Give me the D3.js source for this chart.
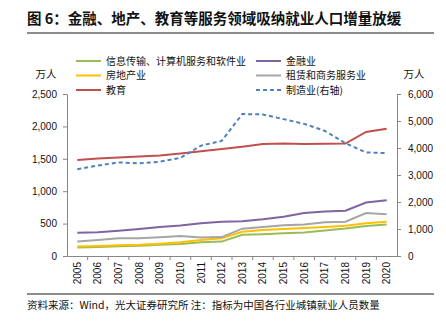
<!DOCTYPE html>
<html lang="zh">
<head>
<meta charset="UTF-8">
<title>就业人口</title>
<script src="https://d3js.org/d3.v7.min.js"></script>
<style>
  body { margin: 0; background: #fff; }
  text { font-family: "Noto Sans CJK SC", "Noto Sans", sans-serif; fill: #111; }
</style>
</head>
<body>
<script>
// 年份与各行业城镇就业人员（万人）
var years = ["2005","2006","2007","2008","2009","2010","2011","2012","2013","2014","2015","2016","2017","2018","2019","2020"];
var itSoftware = [130, 138, 150, 159, 174, 185, 212, 222, 327, 336, 350, 364, 395, 424, 464, 488];
var finance    = [359, 368, 390, 417, 449, 471, 506, 528, 538, 566, 607, 665, 688, 699, 826, 862];
var realEstate = [146, 153, 166, 172, 190, 211, 248, 274, 373, 402, 417, 432, 446, 466, 507, 528];
var leasing    = [222, 248, 274, 274, 291, 310, 287, 292, 422, 449, 474, 488, 522, 529, 662, 646];
var education  = [1483, 1504, 1521, 1534, 1551, 1581, 1617, 1653, 1687, 1727, 1736, 1729, 1732, 1736, 1915, 1962];
var manufacturing = [3211, 3352, 3465, 3434, 3492, 3637, 4088, 4262, 5258, 5243, 5069, 4894, 4635, 4178, 3835, 3812];

var leftTicks = [0, 500, 1000, 1500, 2000, 2500];
var rightTicks = [0, 1000, 2000, 3000, 4000, 5000, 6000];

var width = 446, height = 325;
var plot = {left: 67, right: 397, top: 94, bottom: 256};

var svg = d3.select("body").append("svg")
  .attr("width", width)
  .attr("height", height);

// 标题与分隔线
svg.append("text")
  .attr("x", 27).attr("y", 24)
  .style("font-size", "14.5px").style("font-weight", "bold")
  .text("图 6：金融、地产、教育等服务领域吸纳就业人口增量放缓");
svg.append("line")
  .attr("x1", 27).attr("x2", 434).attr("y1", 33).attr("y2", 33)
  .attr("stroke", "#8c8c8c").attr("stroke-width", 2);

var x = d3.scaleBand().domain(years).range([plot.left, plot.right]);
var yL = d3.scaleLinear().domain([0, 2500]).range([plot.bottom, plot.top]);
var yR = d3.scaleLinear().domain([0, 6000]).range([plot.bottom, plot.top]);

var axisColor = "#868686";

// 坐标轴
var gl = svg.append("g").attr("transform", "translate(" + plot.left + ",0)")
  .call(d3.axisLeft(yL).tickValues(leftTicks).tickSize(4).tickSizeOuter(0).tickFormat(d3.format(",")));
var gr = svg.append("g").attr("transform", "translate(" + plot.right + ",0)")
  .call(d3.axisRight(yR).tickValues(rightTicks).tickSize(4).tickSizeOuter(0).tickFormat(d3.format(",")));
var gx = svg.append("g").attr("transform", "translate(0," + plot.bottom + ")")
  .call(d3.axisBottom(x).tickSize(0).tickSizeOuter(0));

[gl, gr, gx].forEach(function(g) {
  g.select(".domain").attr("stroke", axisColor);
  g.selectAll(".tick line").attr("stroke", axisColor);
  g.selectAll("text").style("font-size", "10px").style("font-family", "\"Liberation Sans\", sans-serif").attr("fill", "#222");
});
gl.selectAll("text").attr("x", -10);
gr.selectAll("text").attr("x", 11);

gx.selectAll(".tick text")
  .attr("transform", "rotate(-90)")
  .attr("x", -6).attr("y", 0).attr("dy", "0.35em")
  .style("text-anchor", "end");

// 类别分界刻度
gx.selectAll(".sep")
  .data(years.slice(1))
  .enter().append("line")
  .attr("class", "sep")
  .attr("x1", function(d) { return x(d); })
  .attr("x2", function(d) { return x(d); })
  .attr("y1", 0).attr("y2", 4)
  .attr("stroke", axisColor);

// 单位
svg.append("text").attr("x", 46).attr("y", 78).style("font-size", "10.5px")
  .style("text-anchor", "middle").text("万人");
svg.append("text").attr("x", 414).attr("y", 78).style("font-size", "10.5px")
  .style("text-anchor", "middle").text("万人");

var series = [
  {name: "信息传输、计算机服务和软件业", values: itSoftware, color: "#9bbb59", axis: yL},
  {name: "金融业", values: finance, color: "#8064a2", axis: yL},
  {name: "房地产业", values: realEstate, color: "#ffc000", axis: yL},
  {name: "租赁和商务服务业", values: leasing, color: "#a5a5a5", axis: yL},
  {name: "教育", values: education, color: "#c0504d", axis: yL},
  {name: "制造业(右轴)", values: manufacturing, color: "#4f81bd", axis: yR, dash: "4,3"}
];

series.forEach(function(s) {
  var line = d3.line()
    .x(function(d, i) { return x(years[i]) + x.bandwidth() / 2; })
    .y(function(d) { return s.axis(d); });
  svg.append("path")
    .datum(s.values)
    .attr("d", line)
    .attr("fill", "none")
    .attr("stroke", s.color)
    .attr("stroke-width", 2)
    .attr("stroke-dasharray", s.dash || null);
});

// 图例：两列三行
var legendPos = [[76, 61], [256, 61], [76, 75.5], [256, 75.5], [76, 90], [256, 90]];
series.forEach(function(s, i) {
  var p = legendPos[i];
  var g = svg.append("g").attr("transform", "translate(" + p[0] + "," + p[1] + ")");
  g.append("line").attr("x1", 0).attr("x2", 25).attr("y1", 0).attr("y2", 0)
    .attr("stroke", s.color).attr("stroke-width", 2)
    .attr("stroke-dasharray", s.dash || null);
  g.append("text").attr("x", 30).attr("y", 0).attr("dy", "0.35em")
    .style("font-size", "10px").text(s.name);
});

// 底部来源
svg.append("line")
  .attr("x1", 27).attr("x2", 434).attr("y1", 294).attr("y2", 294)
  .attr("stroke", "#8c8c8c").attr("stroke-width", 2);
svg.append("text")
  .attr("x", 27).attr("y", 309)
  .style("font-size", "10.5px")
  .text("资料来源：Wind，光大证券研究所  注：指标为中国各行业城镇就业人员数量");
</script>
</body>
</html>
